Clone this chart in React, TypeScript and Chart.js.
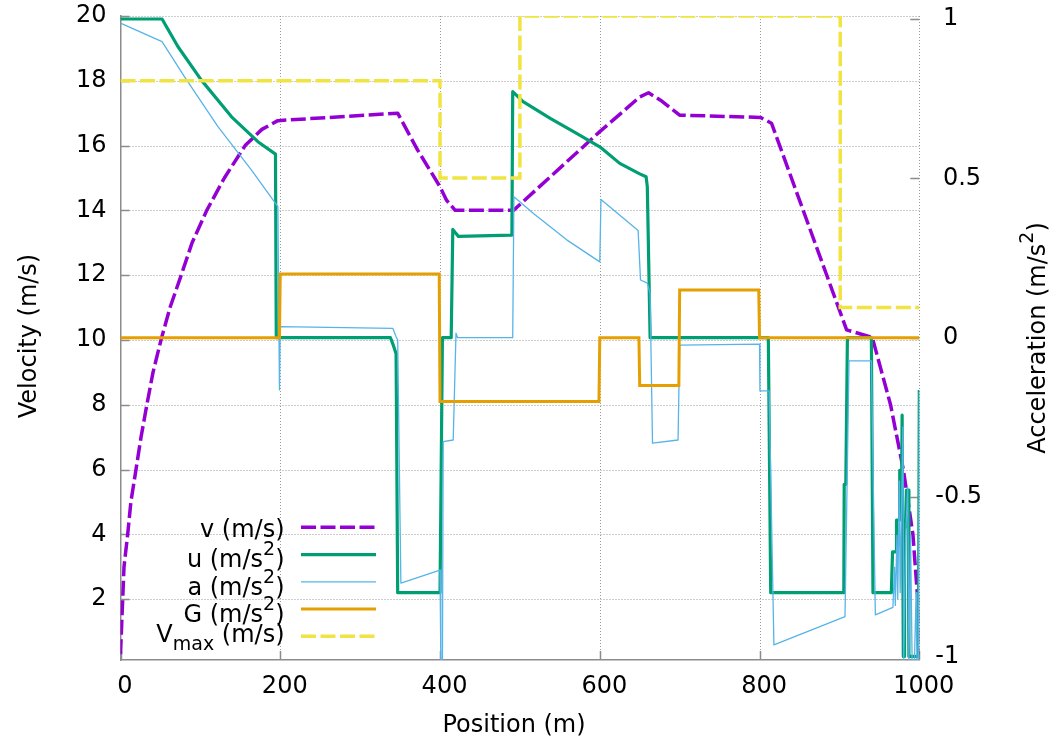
import React, { useEffect, useRef } from 'react';
import { Chart, registerables } from 'chart.js';

Chart.register(...registerables);

// ---------- axis ticks ----------
const X_TICKS = [0, 200, 400, 600, 800, 1000];
const Y_TICKS = [2, 4, 6, 8, 10, 12, 14, 16, 18, 20];
const Y2_TICKS = [-1, -0.5, 0, 0.5, 1];

// ---------- series: [position (m), value] ----------
const V_SERIES: [number, number][] = [
  [0, 0.3], [4.4, 3.0], [9, 4.0], [13, 5.0], [19.4, 6.0], [25.7, 7.0], [33, 8.0], [40.7, 9.0],
  [50.7, 10.0], [62, 11.0], [76, 12.0], [89.6, 13.0], [108, 14.0], [130, 15.0], [156, 16.0],
  [177, 16.5], [197, 16.77], [347, 17.0], [372, 15.86], [400, 14.73], [408, 14.32], [419, 14.0],
  [492, 14.0], [600, 16.43], [650, 17.5], [661, 17.63], [676, 17.4], [700, 16.94], [801, 16.87],
  [815, 16.69], [909, 10.31], [938, 10.1], [942, 10.0], [964, 8.0], [980, 6.0], [992, 4.0],
  [998, 2.0], [1000, 0.3],
];

const U_SERIES: [number, number][] = [
  [0, 1.0], [52, 1.0], [72, 0.913], [101, 0.809], [139, 0.693], [172, 0.615], [194, 0.576],
  [195, 0], [338, 0], [341, -0.02], [345, -0.05], [347, -0.8], [400, -0.8], [403, 0], [414, 0],
  [416, 0.34], [419, 0.33], [423, 0.318], [490, 0.322], [491, 0.772], [504, 0.741], [538, 0.688],
  [571, 0.641], [600, 0.599], [625, 0.547], [650, 0.514], [658, 0.505], [659.5, 0.474], [663, 0],
  [811, 0], [814, -0.8], [905.5, -0.8], [906, -0.46], [908, -0.46], [910, 0], [940, 0],
  [942, -0.8], [965, -0.8], [966.5, -0.672], [971, -0.672], [971.5, -0.572], [975, -0.572],
  [975.5, -0.416], [978, -0.416], [978.5, -0.243], [979.5, -0.243], [980, -1.0], [981, -1.0],
  [981.5, -0.593], [983, -0.593], [984, -0.478], [986, -0.478], [987, -1.0], [999, -1.0],
  [1000, -0.164],
];

const A_SERIES: [number, number][] = [
  [0, 0.987], [52, 0.929], [80, 0.819], [122, 0.662], [164, 0.526], [197, 0.411], [199, -0.164],
  [200, 0.035], [341, 0.029], [345, 0.003], [347, -0.007], [351, -0.77], [400, -0.729],
  [401, -1.01], [403, -1.01], [404, -0.326], [416.5, -0.321], [420, 0.014], [422, 0], [491, 0],
  [492.5, 0.442], [517, 0.39], [558.6, 0.307], [600, 0.238], [601.5, 0.434], [648, 0.336],
  [651, 0.181], [659.5, 0.171], [663, 0.139], [666, -0.331], [698, -0.321], [700, -0.023],
  [800, -0.02], [800.5, -0.167], [812, -0.167], [818, -0.964], [907, -0.875], [912, -0.073],
  [940, -0.073], [945, -0.87], [967, -0.846], [969, -0.72], [970, -0.84], [972, -0.62],
  [973, -0.82], [975, -0.45], [976, -0.8], [979.5, -0.28], [980.5, -1.01], [983, -0.62],
  [985.5, -0.47], [987, -1.01], [989, -0.62], [991, -1.01], [994, -1.01], [996, -0.8],
  [997, -1.01], [999, -1.01], [1000, -0.17],
];

const G_SERIES: [number, number][] = [
  [0, 0], [199, 0], [200, 0.2], [399, 0.2], [400, -0.2], [599, -0.2], [600, 0], [649, 0],
  [650, -0.15], [699, -0.15], [700, 0.15], [799, 0.15], [800, 0], [1000, 0],
];

const VMAX_SERIES: [number, number][] = [
  [0, 18], [400, 18], [400, 15], [500, 15], [500, 20], [901, 20], [901, 11], [1000, 11],
];

// ---------- styling ----------
const FONT = '"DejaVu Sans", sans-serif';
const C_V = '#9400d3';
const C_U = '#009e73';
const C_A = '#56b4e9';
const C_G = '#e69f00';
const C_VMAX = '#f0e442';
const GRID = '#9a9a9a';
const BORDER = '#8c8c8c';
const DASH = [15, 4.5];

type Part = { t: string; k?: 'sup' | 'sub' };

const LEGEND: { parts: Part[]; color: string; dash: number[]; width: number; shift: number }[] = [
  { parts: [{ t: 'v (m/s)' }], color: C_V, dash: DASH, width: 3.5, shift: 0 },
  { parts: [{ t: 'u (m/s' }, { t: '2', k: 'sup' }, { t: ')' }], color: C_U, dash: [], width: 3.2, shift: 3.3 },
  { parts: [{ t: 'a (m/s' }, { t: '2', k: 'sup' }, { t: ')' }], color: C_A, dash: [], width: 1.3, shift: 3.3 },
  { parts: [{ t: 'G (m/s' }, { t: '2', k: 'sup' }, { t: ')' }], color: C_G, dash: [], width: 3, shift: 3.3 },
  { parts: [{ t: 'V' }, { t: 'max', k: 'sub' }, { t: ' (m/s)' }], color: C_VMAX, dash: DASH, width: 3.5, shift: -4 },
];

function drawRich(ctx: CanvasRenderingContext2D, parts: Part[], x: number, baseline: number, align: 'left' | 'right' | 'center') {
  const widths: number[] = [];
  let total = 0;
  for (const p of parts) {
    ctx.font = `${p.k ? 19 : 24}px ${FONT}`;
    const w = ctx.measureText(p.t).width;
    widths.push(w);
    total += w;
  }
  let cx = align === 'right' ? x - total : align === 'center' ? x - total / 2 : x;
  ctx.textAlign = 'left';
  ctx.textBaseline = 'alphabetic';
  parts.forEach((p, i) => {
    ctx.font = `${p.k ? 19 : 24}px ${FONT}`;
    const dy = p.k === 'sup' ? -12 : p.k === 'sub' ? 8 : 0;
    ctx.fillText(p.t, cx, baseline + dy);
    cx += widths[i];
  });
}

const decorPlugin = {
  id: 'gnuplotDecor',
  beforeDatasetsDraw(chart: any) {
    const { ctx, chartArea, scales } = chart;
    // dotted grid
    ctx.save();
    ctx.strokeStyle = GRID;
    ctx.lineWidth = 1;
    ctx.setLineDash([1, 2]);
    ctx.beginPath();
    for (const v of X_TICKS) {
      if (v === 0) continue;
      const x = Math.round(scales.x.getPixelForValue(v)) + 0.5;
      ctx.moveTo(x, chartArea.top);
      ctx.lineTo(x, chartArea.bottom);
    }
    for (const v of Y_TICKS) {
      const y = Math.round(scales.y.getPixelForValue(v)) + 0.5;
      ctx.moveTo(chartArea.left, y);
      ctx.lineTo(chartArea.right, y);
    }
    ctx.stroke();
    ctx.restore();
    // inward tick marks
    ctx.save();
    ctx.strokeStyle = BORDER;
    ctx.lineWidth = 1.5;
    ctx.beginPath();
    for (const v of Y_TICKS) {
      const y = Math.round(scales.y.getPixelForValue(v)) + 0.5;
      ctx.moveTo(chartArea.left, y);
      ctx.lineTo(chartArea.left + 9, y);
    }
    for (const v of Y2_TICKS) {
      const y = Math.round(scales.y2.getPixelForValue(v)) + 0.5;
      ctx.moveTo(chartArea.right - 9, y);
      ctx.lineTo(chartArea.right, y);
    }
    for (const v of X_TICKS) {
      const x = Math.round(scales.x.getPixelForValue(v)) + 0.5;
      ctx.moveTo(x, chartArea.bottom);
      ctx.lineTo(x, chartArea.bottom - 9);
    }
    ctx.stroke();
    ctx.restore();
  },
  afterDraw(chart: any) {
    const { ctx } = chart;
    ctx.save();
    ctx.fillStyle = '#000';
    // x title
    ctx.font = `24px ${FONT}`;
    ctx.textAlign = 'center';
    ctx.textBaseline = 'middle';
    ctx.fillText('Position (m)', 514, 726);
    // left title
    ctx.save();
    ctx.translate(30, 336);
    ctx.rotate(-Math.PI / 2);
    ctx.fillText('Velocity (m/s)', 0, 0);
    ctx.restore();
    // right title
    ctx.save();
    ctx.translate(1036, 338);
    ctx.rotate(-Math.PI / 2);
    drawRich(ctx, [{ t: 'Acceleration (m/s' }, { t: '2', k: 'sup' }, { t: ')' }], 0, 9, 'center');
    ctx.restore();
    // legend
    LEGEND.forEach((item, i) => {
      const rowY = 527.3 + i * 27.25;
      ctx.fillStyle = '#000';
      drawRich(ctx, item.parts, 284.5, rowY + 9.4 + item.shift, 'right');
      ctx.save();
      ctx.strokeStyle = item.color;
      ctx.lineWidth = item.width;
      ctx.setLineDash(item.dash);
      ctx.beginPath();
      ctx.moveTo(301, rowY);
      ctx.lineTo(376, rowY);
      ctx.stroke();
      ctx.restore();
    });
    ctx.restore();
  },
};

const toPts = (s: [number, number][]) => s.map(([x, y]) => ({ x, y }));

const zeroPad = (s: any) => {
  s.paddingTop = 0;
  s.paddingBottom = 0;
  s.paddingLeft = 0;
  s.paddingRight = 0;
};

export default function App() {
  const ref = useRef<HTMLCanvasElement | null>(null);

  useEffect(() => {
    if (!ref.current) return;
    const tickFont = { family: FONT, size: 24 };
    const chart = new Chart(ref.current, {
      type: 'line',
      data: {
        datasets: [
          { label: 'v (m/s)', data: toPts(V_SERIES), yAxisID: 'y', borderColor: C_V, borderWidth: 3.5, borderDash: DASH, borderJoinStyle: 'round', pointRadius: 0, fill: false, tension: 0, order: 5 },
          { label: 'u (m/s²)', data: toPts(U_SERIES), yAxisID: 'y2', borderColor: C_U, borderWidth: 3.2, borderJoinStyle: 'round', pointRadius: 0, fill: false, tension: 0, order: 4 },
          { label: 'a (m/s²)', data: toPts(A_SERIES), yAxisID: 'y2', borderColor: C_A, borderWidth: 1.3, borderJoinStyle: 'round', pointRadius: 0, fill: false, tension: 0, order: 3 },
          { label: 'G (m/s²)', data: toPts(G_SERIES), yAxisID: 'y2', borderColor: C_G, borderWidth: 3, borderJoinStyle: 'miter', pointRadius: 0, fill: false, tension: 0, order: 2 },
          { label: 'Vmax (m/s)', data: toPts(VMAX_SERIES), yAxisID: 'y', borderColor: C_VMAX, borderWidth: 3.5, borderDash: DASH, borderJoinStyle: 'miter', pointRadius: 0, fill: false, tension: 0, order: 1 },
        ] as any,
      },
      options: {
        animation: false,
        responsive: false,
        devicePixelRatio: 1,
        events: [],
        layout: { padding: { top: 16, left: 0, right: 0, bottom: 0 } },
        plugins: { legend: { display: false }, tooltip: { enabled: false } },
        scales: {
          x: {
            type: 'linear',
            min: 0,
            max: 1000,
            afterBuildTicks: (s: any) => { s.ticks = X_TICKS.map((v) => ({ value: v })); },
            afterFit: (s: any) => { s.height = 85; zeroPad(s); },
            grid: { display: false, drawTicks: false },
            border: { display: true, color: BORDER, width: 1.5 },
            ticks: { font: tickFont, color: '#000', padding: 12, labelOffset: 4.5, maxRotation: 0, minRotation: 0, autoSkip: false, callback: (v: any) => String(v) },
          },
          y: {
            type: 'linear',
            position: 'left',
            min: 0.12,
            max: 20,
            afterBuildTicks: (s: any) => { s.ticks = Y_TICKS.map((v) => ({ value: v })); },
            afterFit: (s: any) => { s.width = 120.5; zeroPad(s); },
            grid: { display: false, drawTicks: false },
            border: { display: true, color: BORDER, width: 1.5 },
            ticks: { font: tickFont, color: '#000', padding: 14, autoSkip: false, callback: (v: any) => String(v) },
          },
          y2: {
            type: 'linear',
            position: 'right',
            min: -1.0113,
            max: 1.0094,
            afterBuildTicks: (s: any) => { s.ticks = Y2_TICKS.map((v) => ({ value: v })); },
            afterFit: (s: any) => { s.width = 134.7; zeroPad(s); },
            grid: { display: false, drawTicks: false },
            border: { display: false },
            ticks: { font: tickFont, color: '#000', padding: 16, autoSkip: false, callback: (v: any) => (v < 0 ? String(v) : ' ' + String(v)) },
          },
        },
      } as any,
      plugins: [decorPlugin],
    });
    return () => chart.destroy();
  }, []);

  return (
    <div style={{ position: 'absolute', left: 0, top: 0, width: 1054, height: 745, background: '#fff' }}>
      <canvas ref={ref} width={1054} height={745} style={{ width: 1054, height: 745, display: 'block' }} />
    </div>
  );
}
